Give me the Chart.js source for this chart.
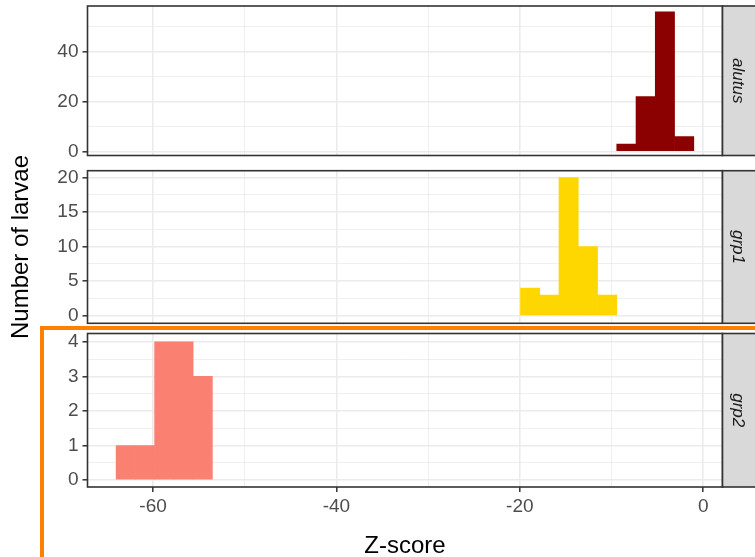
<!DOCTYPE html>
<html>
<head>
<meta charset="utf-8">
<script src="https://cdn.jsdelivr.net/npm/chart.js@4/dist/chart.umd.min.js"></script>
<style>
  body { margin: 0; background: #fff; width: 755px; height: 557px; overflow: hidden; position: relative;
         font-family: "Liberation Sans", Arial, sans-serif; }
  canvas { position: absolute; left: 0; }
  .title { position: absolute; color: #000; font-size: 24px; line-height: 24px; text-align: center; white-space: nowrap; }
  #frame { position: absolute; left: 40px; top: 326px; width: 900px; height: 400px;
           border-left: 4px solid #ff8000; border-top: 4px solid #ff8000; }
</style>
</head>
<body>
<canvas id="c1" width="755" height="163" style="top:0px"></canvas>
<canvas id="c2" width="755" height="165" style="top:163px"></canvas>
<canvas id="c3" width="755" height="229" style="top:328px"></canvas>
<div class="title" id="ytitle" style="left:-130px; top:234.5px; width:300px; transform: rotate(-90deg);">Number of larvae</div>
<div class="title" id="xtitle" style="left:105px; top:532.5px; width:600px;">Z-score</div>
<div id="frame"></div>
<script>
// histogram bins of the Z-score (bin width)
const binWidth = 2.1;
const groups = ['alutus', 'grp1', 'grp2'];
const groupColors = ['#8b0000', '#ffd700', '#fa8072'];

const alutusStart = -9.43;
const alutusCounts = [3, 22, 56, 6];
const grp1Start = -19.93;
const grp1Counts = [4, 3, 20, 10, 3];
const grp2Start = -64.03;
const grp2Counts = [1, 1, 4, 4, 3];

// axes
const xRange = [-67.15, 2.1];
const xGrid = [-60, -50, -40, -30, -20, -10, 0];
const xLabels = [-60, -40, -20, 0];

const alutusRange = [-1.6, 58.3];
const alutusGrid = [0, 10, 20, 30, 40, 50];
const alutusLabels = [0, 20, 40];

const grp1Range = [-1.1, 21.0];
const grp1Grid = [0, 2.5, 5, 7.5, 10, 12.5, 15, 17.5, 20];
const grp1Labels = [0, 5, 10, 15, 20];

const grp2Range = [-0.2, 4.24];
const grp2Grid = [0, 0.5, 1, 1.5, 2, 2.5, 3, 3.5, 4];
const grp2Labels = [0, 1, 2, 3, 4];

const FONT = '"Liberation Sans", Arial, sans-serif';
const panelLeft = 87.5, panelRight = 722.5;

function bins(start, counts) {
  return counts.map((c, i) => ({ x: start + (i + 0.5) * binWidth, y: c }));
}

const facetPlugin = (label) => ({
  id: 'facet',
  afterDatasetsDraw(chart) {
    const a = chart.chartArea, ctx = chart.ctx;
    ctx.save();
    ctx.strokeStyle = '#333333';
    ctx.lineWidth = 1.6;
    ctx.strokeRect(a.left, a.top, a.right - a.left, a.bottom - a.top);
    ctx.restore();
  },
  afterDraw(chart) {
    const a = chart.chartArea, ctx = chart.ctx;
    ctx.save();
    ctx.fillStyle = '#d9d9d9';
    ctx.fillRect(a.right, a.top, 60, a.bottom - a.top);
    ctx.strokeStyle = '#333333';
    ctx.lineWidth = 1.6;
    ctx.strokeRect(a.right, a.top, 60, a.bottom - a.top);
    ctx.fillStyle = '#1a1a1a';
    ctx.font = 'italic 17px ' + FONT;
    ctx.textAlign = 'center';
    ctx.textBaseline = 'alphabetic';
    ctx.translate(733, (a.top + a.bottom) / 2);
    ctx.rotate(Math.PI / 2);
    ctx.fillText(label, 0, 0);
    ctx.restore();
  }
});

const isMajor = (c, labels) => !!(c.tick && labels.includes(c.tick.value));

function axisStyle(grid, labels, showLabels) {
  return {
    offset: false,
    afterBuildTicks: (s) => { s.ticks = grid.map(v => ({ value: v })); },
    grid: {
      offset: false,
      color: '#ebebeb',
      lineWidth: (c) => isMajor(c, labels) ? 1.6 : 0.8,
      tickColor: (c) => isMajor(c, labels) ? '#333333' : 'rgba(0,0,0,0)',
      tickWidth: 1.5,
      tickLength: 5,
      drawTicks: showLabels
    },
    border: { display: false },
    ticks: {
      display: showLabels,
      autoSkip: false,
      maxRotation: 0,
      padding: 4,
      color: '#4d4d4d',
      font: { family: FONT, size: 19 },
      callback: (v) => labels.includes(v) ? String(v) : ''
    }
  };
}

function facet(id, name, color, data, yRange, yGrid, yLabels, pad, showX) {
  const x = Object.assign({ type: 'linear', min: xRange[0], max: xRange[1] },
    axisStyle(xGrid, xLabels, showX));
  x.afterFit = (s) => {
    s.height = showX ? pad.axis : 0;
    s.paddingLeft = 0; s.paddingRight = 0;
  };
  if (showX) x.ticks.padding = 3;
  const y = Object.assign({ type: 'linear', min: yRange[0], max: yRange[1] },
    axisStyle(yGrid, yLabels, true));
  y.afterFit = (s) => {
    s.width = panelLeft;
    s.paddingTop = 0; s.paddingBottom = 0;
  };
  return new Chart(document.getElementById(id), {
    type: 'bar',
    data: {
      datasets: [{
        label: name,
        data: data,
        backgroundColor: color,
        borderWidth: 0,
        barPercentage: 1,
        categoryPercentage: 1,
        grouped: false
      }]
    },
    options: {
      responsive: false,
      animation: false,
      layout: { padding: { left: 0, right: 755 - panelRight, top: pad.top, bottom: pad.bottom } },
      plugins: { legend: { display: false }, tooltip: { enabled: false } },
      scales: { x: x, y: y }
    },
    plugins: [facetPlugin(name)]
  });
}

facet('c1', groups[0], groupColors[0], bins(alutusStart, alutusCounts),
  alutusRange, alutusGrid, alutusLabels, { top: 6, bottom: 7.5 }, false);
facet('c2', groups[1], groupColors[1], bins(grp1Start, grp1Counts),
  grp1Range, grp1Grid, grp1Labels, { top: 7.7, bottom: 4.7 }, false);
facet('c3', groups[2], groupColors[2], bins(grp2Start, grp2Counts),
  grp2Range, grp2Grid, grp2Labels, { top: 5.5, bottom: 0, axis: 70 }, true);
</script>
</body>
</html>
